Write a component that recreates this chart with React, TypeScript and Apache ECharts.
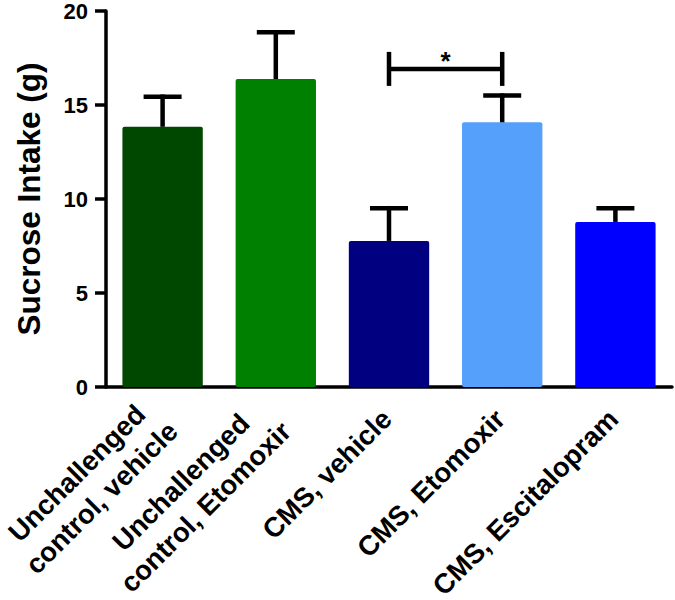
import React, { useEffect, useRef } from "react";
import * as echarts from "echarts";

const categories = [
  "Unchallenged\ncontrol, vehicle",
  "Unchallenged\ncontrol, Etomoxir",
  "CMS, vehicle",
  "CMS, Etomoxir",
  "CMS, Escitalopram",
];
const means = [13.84, 16.38, 7.77, 14.08, 8.78];
const sems = [1.6, 2.49, 1.74, 1.42, 0.73];
const barColors = ["#004800", "#008000", "#000080", "#55A0FA", "#0000FF"];
const yMin = 0;
const yMax = 20;
const yInterval = 5;
const sigPair = [2, 3];
const sigLevel = 16.92;
const sigLabel = "*";
const yTitle = "Sucrose Intake (g)";

const FONT = "'Liberation Sans', Arial, Helvetica, sans-serif";

export default function App() {
  const ref = useRef<HTMLDivElement>(null);
  useEffect(() => {
    if (!ref.current) return;
    const chart = echarts.init(ref.current, undefined, { renderer: "svg" });
    const errData = means.map((m, i) => [i, m, m + sems[i]]);
    const labelStyle = {
      color: "#000",
      fontFamily: FONT,
      fontWeight: "bold",
      fontSize: 27.5,
      lineHeight: 35,
      align: "center",
    };
    chart.setOption({
      animation: false,
      textStyle: { fontFamily: FONT },
      grid: { left: 106, right: 3, top: 11, bottom: 213, outerBoundsMode: "none" },
      xAxis: {
        type: "category",
        data: categories,
        axisLine: { lineStyle: { color: "#000", width: 3.5 } },
        axisTick: { alignWithLabel: true, length: 9, lineStyle: { color: "#000", width: 3.5 } },
        axisLabel: {
          interval: 0,
          rotate: 45,
          margin: 25,
          padding: [0, 3, 0, 0],
          color: "#000",
          fontFamily: FONT,
          fontWeight: "bold",
          fontSize: 27.5,
          lineHeight: 35,
          formatter: (v: string) =>
            v
              .split("\n")
              .map((s) => `{c|${s}}`)
              .join("\n"),
          rich: { c: labelStyle },
        },
      },
      yAxis: {
        type: "value",
        min: yMin,
        max: yMax,
        interval: yInterval,
        name: yTitle,
        nameLocation: "middle",
        nameGap: 61,
        nameTextStyle: { color: "#000", fontFamily: FONT, fontWeight: "bold", fontSize: 31.5 },
        axisLine: { show: true, lineStyle: { color: "#000", width: 3.5 } },
        axisTick: { show: true, length: 11, lineStyle: { color: "#000", width: 3.5 } },
        axisLabel: { margin: 18, color: "#000", fontFamily: FONT, fontWeight: "bold", fontSize: 22 },
        splitLine: { show: false },
      },
      series: [
        {
          type: "bar",
          barCategoryGap: "29%",
          data: means.map((m, i) => ({ value: m, itemStyle: { color: barColors[i], borderRadius: 2 } })),
          z: 2,
        },
        {
          type: "custom",
          z: 3,
          encode: { x: 0, y: [1, 2] },
          data: errData,
          renderItem: (params: any, api: any) => {
            const x = api.value(0);
            const p0 = api.coord([x, api.value(1)]);
            const p1 = api.coord([x, api.value(2)]);
            const capHalf = 19;
            const style = { stroke: "#000", lineWidth: 4.5 };
            return {
              type: "group",
              children: [
                { type: "line", shape: { x1: p0[0], y1: p0[1], x2: p1[0], y2: p1[1] - 2.25 }, style },
                { type: "line", shape: { x1: p1[0] - capHalf, y1: p1[1], x2: p1[0] + capHalf, y2: p1[1] }, style },
              ],
            };
          },
        },
        {
          type: "custom",
          z: 3,
          encode: { x: 0, y: 2 },
          data: [[sigPair[0], sigPair[1], sigLevel]],
          renderItem: (params: any, api: any) => {
            const a = api.coord([api.value(0), api.value(2)]);
            const b = api.coord([api.value(1), api.value(2)]);
            const half = 17;
            const style = { stroke: "#000", lineWidth: 4.5 };
            return {
              type: "group",
              children: [
                { type: "line", shape: { x1: a[0], y1: a[1], x2: b[0], y2: b[1] }, style },
                { type: "line", shape: { x1: a[0], y1: a[1] - half, x2: a[0], y2: a[1] + half }, style },
                { type: "line", shape: { x1: b[0], y1: b[1] - half, x2: b[0], y2: b[1] + half }, style },
                {
                  type: "text",
                  x: (a[0] + b[0]) / 2,
                  y: a[1] - 8,
                  style: {
                    text: sigLabel,
                    fill: "#000",
                    font: `bold 26px ${FONT}`,
                    align: "center",
                    verticalAlign: "middle",
                  },
                },
              ],
            };
          },
        },
      ],
    });
    return () => chart.dispose();
  }, []);
  return (
    <div
      ref={ref}
      style={{ position: "absolute", left: 0, top: 0, width: 675, height: 600, background: "#fff" }}
    />
  );
}
